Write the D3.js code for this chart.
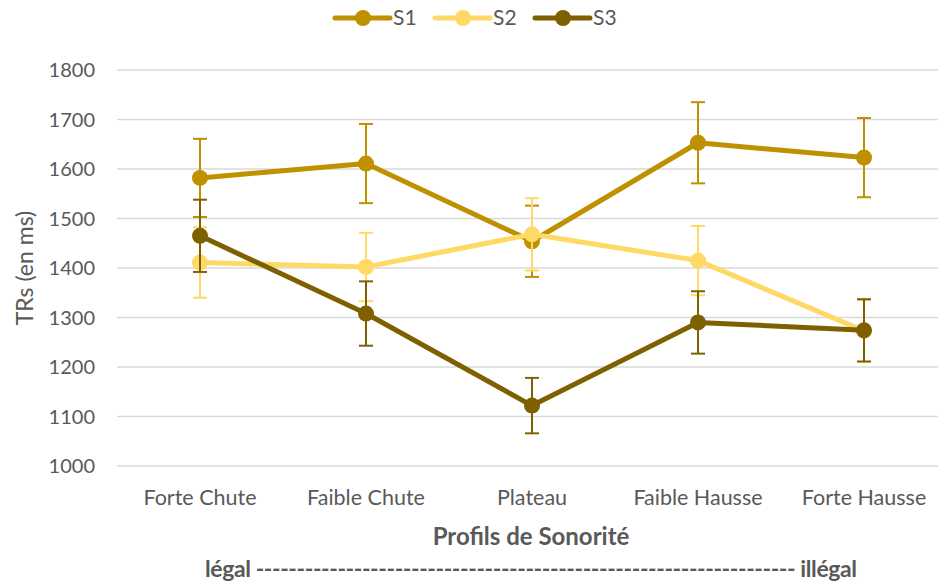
<!DOCTYPE html>
<html>
<head>
<meta charset="utf-8">
<script src="https://cdn.jsdelivr.net/npm/d3@7"></script>
<style>
  body { margin: 0; background: #fff; }
  svg { font-family: Lato, "Open Sans", sans-serif; }
</style>
</head>
<body>
<svg id="chart" width="938" height="586"></svg>
<script>
// categories and series
const categories = ["Forte Chute", "Faible Chute", "Plateau", "Faible Hausse", "Forte Hausse"];
const seriesNames = ["S1", "S2", "S3"];
const s1 = [1582, 1611, 1454, 1653, 1623];
const s2 = [1411, 1402, 1468, 1415, 1273];
const s3 = [1465, 1308, 1122, 1290, 1274];
const s1Err = [79, 80, 72, 82, 80];
const s2Err = [71, 69, 73, 70, 62];
const s3Err = [73, 65, 56, 63, 63];
const yTicks = [1000, 1100, 1200, 1300, 1400, 1500, 1600, 1700, 1800];
const colors = ["#BF9000", "#FFD966", "#7F6000"];

const series = [
  { name: seriesNames[0], values: s1, err: s1Err, color: colors[0] },
  { name: seriesNames[1], values: s2, err: s2Err, color: colors[1] },
  { name: seriesNames[2], values: s3, err: s3Err, color: colors[2] }
];

const svg = d3.select("#chart");
const plot = { left: 117, right: 947, top: 70, bottom: 466 };

const x = d3.scaleBand().domain(categories).range([plot.left, plot.right]);
const y = d3.scaleLinear().domain([1000, 1800]).range([plot.bottom, plot.top]);
const cx = d => x(d) + x.bandwidth() / 2;

// gridlines
svg.append("g")
  .selectAll("line")
  .data(yTicks)
  .enter()
  .append("line")
  .attr("x1", plot.left)
  .attr("x2", plot.right)
  .attr("y1", d => y(d))
  .attr("y2", d => y(d))
  .attr("stroke", "#D9D9D9")
  .attr("stroke-width", 1.3);

// y tick labels
svg.append("g")
  .selectAll("text")
  .data(yTicks)
  .enter()
  .append("text")
  .attr("x", 95)
  .attr("y", d => y(d))
  .attr("dy", "0.35em")
  .attr("text-anchor", "end")
  .attr("fill", "#595959")
  .style("font-size", "20px")
  .text(d => d);

// x tick labels
svg.append("g")
  .selectAll("text")
  .data(categories)
  .enter()
  .append("text")
  .attr("x", d => cx(d))
  .attr("y", 497)
  .attr("dy", "0.35em")
  .attr("text-anchor", "middle")
  .attr("fill", "#595959")
  .style("font-size", "21.5px")
  .text(d => d);

// axis titles
svg.append("text")
  .attr("transform", "translate(25,268) rotate(-90)")
  .attr("text-anchor", "middle")
  .attr("dy", "0.35em")
  .attr("fill", "#595959")
  .style("font-size", "23px")
  .text("TRs (en ms)");

svg.append("text")
  .attr("x", 531)
  .attr("y", 537)
  .attr("dy", "0.35em")
  .attr("text-anchor", "middle")
  .attr("fill", "#595959")
  .style("font-size", "24px")
  .style("font-weight", "bold")
  .text("Profils de Sonorité");

svg.append("text")
  .attr("x", 205)
  .attr("y", 569)
  .attr("dy", "0.35em")
  .attr("textLength", 652)
  .attr("lengthAdjust", "spacing")
  .attr("fill", "#595959")
  .style("font-size", "23px")
  .style("font-weight", "bold")
  .text("légal ------------------------------------------------------------------ illégal");

// series: error bars, lines, markers
const line = d3.line().x((d, i) => cx(categories[i])).y(d => y(d));

series.forEach(s => {
  const g = svg.append("g");

  const eb = g.selectAll(".err")
    .data(s.values)
    .enter()
    .append("g");
  eb.append("line")
    .attr("x1", (d, i) => cx(categories[i]))
    .attr("x2", (d, i) => cx(categories[i]))
    .attr("y1", (d, i) => y(d + s.err[i]))
    .attr("y2", (d, i) => y(d - s.err[i]))
    .attr("stroke", s.color)
    .attr("stroke-width", 2);
  [1, -1].forEach(sign => {
    eb.append("line")
      .attr("x1", (d, i) => cx(categories[i]) - 7)
      .attr("x2", (d, i) => cx(categories[i]) + 7)
      .attr("y1", (d, i) => y(d + sign * s.err[i]))
      .attr("y2", (d, i) => y(d + sign * s.err[i]))
      .attr("stroke", s.color)
      .attr("stroke-width", 2);
  });

  g.append("path")
    .datum(s.values)
    .attr("d", line)
    .attr("fill", "none")
    .attr("stroke", s.color)
    .attr("stroke-width", 5)
    .attr("stroke-linejoin", "round");

  g.selectAll("circle")
    .data(s.values)
    .enter()
    .append("circle")
    .attr("cx", (d, i) => cx(categories[i]))
    .attr("cy", d => y(d))
    .attr("r", 8)
    .attr("fill", s.color);
});

// legend
const legend = svg.append("g")
  .selectAll("g")
  .data(series)
  .enter()
  .append("g")
  .attr("transform", (d, i) => "translate(" + (335 + i * 100) + ",18)");
legend.append("line")
  .attr("x1", 0)
  .attr("x2", 55)
  .attr("stroke", d => d.color)
  .attr("stroke-width", 5)
  .attr("stroke-linecap", "round");
legend.append("circle")
  .attr("cx", 28)
  .attr("r", 8)
  .attr("fill", d => d.color);
legend.append("text")
  .attr("x", 58)
  .attr("dy", "0.35em")
  .attr("fill", "#595959")
  .style("font-size", "21px")
  .text(d => d.name);
</script>
</body>
</html>
